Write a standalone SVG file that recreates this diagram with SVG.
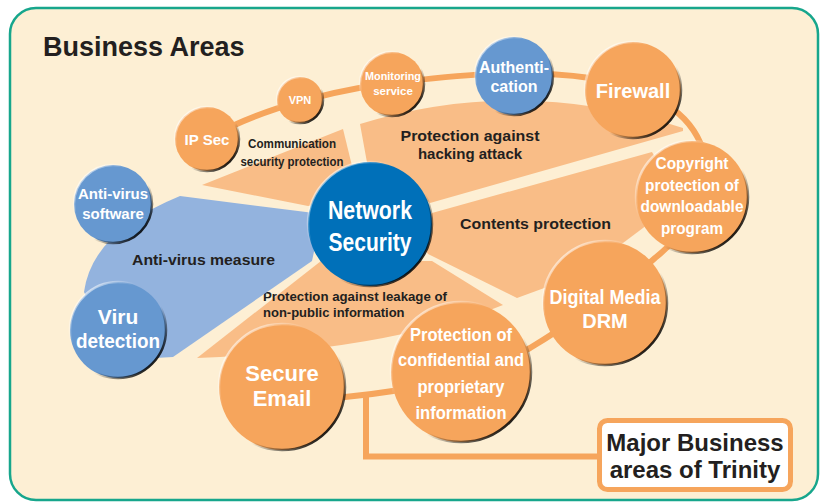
<svg xmlns="http://www.w3.org/2000/svg" width="823" height="503" viewBox="0 0 823 503">
<defs>
<linearGradient id="rim" x1="0" y1="0" x2="1" y2="1">
<stop offset="0" stop-color="#fff" stop-opacity="0.95"/>
<stop offset="0.35" stop-color="#fff" stop-opacity="0"/>
<stop offset="0.6" stop-color="#000" stop-opacity="0"/>
<stop offset="0.9" stop-color="#000" stop-opacity="1"/>
</linearGradient>
</defs>
<style>
.bg{fill:#fdefd4;stroke:#17a68c;stroke-width:2.5}
.wo{fill:#f9bd87}
.wb{fill:#93b3de}
.line{fill:none;stroke:#f6a55c;stroke-width:6}
.o{fill:#f6a55c}
.b{fill:#6698d0}
.n{fill:#0070b9}
.rim{fill:none;stroke:url(#rim);stroke-width:2.5}
.t{font-family:"Liberation Sans",Arial,sans-serif;font-weight:bold;fill:#fff;text-anchor:middle}
.l{font-family:"Liberation Sans",Arial,sans-serif;font-weight:bold;fill:#231f20}
.m{text-anchor:middle}
</style>
<rect class="bg" x="10" y="8" width="808" height="492" rx="26"/>
<text class="l" x="43" y="56" font-size="27">Business Areas</text>

<g id="areas">
<g id="area-communication">
<path class="wo" d="M202,185 L343,129 L353,170 L330,202 L308,206 Z"/>
<text class="l m" x="292" y="148" font-size="12" textLength="88" lengthAdjust="spacingAndGlyphs">Communication</text>
<text class="l m" x="292" y="166" font-size="12" textLength="103" lengthAdjust="spacingAndGlyphs">security protection</text>
</g>
<g id="area-hacking">
<path class="wo" d="M360,124 Q520,75 683,128 L683,131 L430,203 L400,180 L368,168 Z"/>
<text class="l m" x="470" y="141" font-size="15" textLength="139" lengthAdjust="spacingAndGlyphs">Protection against</text>
<text class="l m" x="470" y="159" font-size="15">hacking attack</text>
</g>
<g id="area-contents">
<path class="wo" d="M432,213 L652,152 L680,200 L643,228 L623,243 L560,280 L547,287 L517,298 L428,254 L415,235 Z"/>
<text class="l" x="460" y="229" font-size="15" textLength="151" lengthAdjust="spacingAndGlyphs">Contents protection</text>
</g>
<g id="area-leakage">
<path class="wo" d="M321,261 L197,358 Q330,352 420,330 L490,310 L503,305 L432,261 Z"/>
<text class="l" x="263" y="301" font-size="13" textLength="184" lengthAdjust="spacingAndGlyphs">Protection against leakage of</text>
<text class="l" x="263" y="317" font-size="13">non-public information</text>
</g>
<g id="area-antivirus">
<path class="wb" d="M180,196 L322,214 L312,261 L173,357 L120,360 L84,292 Q92,232 180,196 Z"/>
<text class="l" x="132" y="265" font-size="15" textLength="143" lengthAdjust="spacingAndGlyphs">Anti-virus measure</text>
</g>
</g>

<g id="connectors">
<path class="line" d="M207,139 C240,120 300,95 392,83 C450,76 520,68 590,78 C650,88 690,110 703,150 C715,190 690,230 655,258 C620,290 560,330 530,348 C480,375 420,390 345,397 L282,400"/>
<path class="line" d="M366,396 L366,456.5 L600,456.5" stroke-width="5"/>
</g>

<g id="node-ipsec">
<circle class="o" cx="207" cy="139" r="32"/><circle class="rim" cx="207" cy="139" r="32"/>
<text class="t" x="207" y="145" font-size="15">IP Sec</text>
</g>
<g id="node-vpn">
<circle class="o" cx="300" cy="100" r="23"/><circle class="rim" cx="300" cy="100" r="23"/>
<text class="t" x="300" y="104" font-size="11">VPN</text>
</g>
<g id="node-monitoring">
<circle class="o" cx="392" cy="84" r="32"/><circle class="rim" cx="392" cy="84" r="32"/>
<text class="t" x="393" y="80" font-size="11.5" textLength="56" lengthAdjust="spacingAndGlyphs">Monitoring</text>
<text class="t" x="393" y="95" font-size="11.5">service</text>
</g>
<g id="node-authentication">
<circle class="b" cx="514" cy="76" r="39"/><circle class="rim" cx="514" cy="76" r="39"/>
<text class="t" x="514" y="73" font-size="16">Authenti-</text>
<text class="t" x="514" y="92" font-size="16">cation</text>
</g>
<g id="node-firewall">
<circle class="o" cx="633" cy="90" r="48"/><circle class="rim" cx="633" cy="90" r="48"/>
<text class="t" x="633" y="98" font-size="20">Firewall</text>
</g>
<g id="node-copyright">
<circle class="o" cx="692" cy="197" r="56"/><circle class="rim" cx="692" cy="197" r="56"/>
<text class="t" x="692" y="169" font-size="17" textLength="73" lengthAdjust="spacingAndGlyphs">Copyright</text>
<text class="t" x="692" y="191" font-size="17" textLength="94" lengthAdjust="spacingAndGlyphs">protection of</text>
<text class="t" x="692" y="212" font-size="17" textLength="103" lengthAdjust="spacingAndGlyphs">downloadable</text>
<text class="t" x="692" y="234" font-size="17" textLength="62" lengthAdjust="spacingAndGlyphs">program</text>
</g>
<g id="node-drm">
<circle class="o" cx="605" cy="303" r="62"/><circle class="rim" cx="605" cy="303" r="62"/>
<text class="t" x="605" y="304" font-size="20" textLength="111" lengthAdjust="spacingAndGlyphs">Digital Media</text>
<text class="t" x="605" y="328" font-size="20">DRM</text>
</g>
<g id="node-confidential">
<circle class="o" cx="461" cy="372" r="70"/><circle class="rim" cx="461" cy="372" r="70"/>
<text class="t" x="461" y="341" font-size="19" textLength="102" lengthAdjust="spacingAndGlyphs">Protection of</text>
<text class="t" x="461" y="366" font-size="19" textLength="126" lengthAdjust="spacingAndGlyphs">confidential and</text>
<text class="t" x="461" y="393" font-size="19" textLength="87" lengthAdjust="spacingAndGlyphs">proprietary</text>
<text class="t" x="461" y="419" font-size="19" textLength="91" lengthAdjust="spacingAndGlyphs">information</text>
</g>
<g id="node-email">
<circle class="o" cx="282" cy="387" r="63"/><circle class="rim" cx="282" cy="387" r="63"/>
<text class="t" x="282" y="381" font-size="22">Secure</text>
<text class="t" x="282" y="406" font-size="22">Email</text>
</g>
<g id="node-viru">
<circle class="b" cx="118" cy="330" r="48"/><circle class="rim" cx="118" cy="330" r="48"/>
<text class="t" x="118" y="324" font-size="21">Viru</text>
<text class="t" x="118" y="348" font-size="21" textLength="84" lengthAdjust="spacingAndGlyphs">detection</text>
</g>
<g id="node-antivirus">
<circle class="b" cx="113" cy="204" r="39"/><circle class="rim" cx="113" cy="204" r="39"/>
<text class="t" x="113" y="199" font-size="15">Anti-virus</text>
<text class="t" x="113" y="219" font-size="15">software</text>
</g>
<g id="node-network">
<circle class="n" cx="370" cy="224" r="62"/><circle class="rim" cx="370" cy="224" r="62"/>
<text class="t" x="370" y="219" font-size="25" textLength="84" lengthAdjust="spacingAndGlyphs">Network</text>
<text class="t" x="370" y="251" font-size="25" textLength="83" lengthAdjust="spacingAndGlyphs">Security</text>
</g>
<g id="node-major">
<rect x="599.5" y="420.5" width="191" height="69" rx="8" fill="#fff" stroke="#f6a55c" stroke-width="5"/>
<text class="l m" x="695" y="451" font-size="24">Major Business</text>
<text class="l m" x="695" y="478" font-size="24">areas of Trinity</text>
</g>
</svg>
